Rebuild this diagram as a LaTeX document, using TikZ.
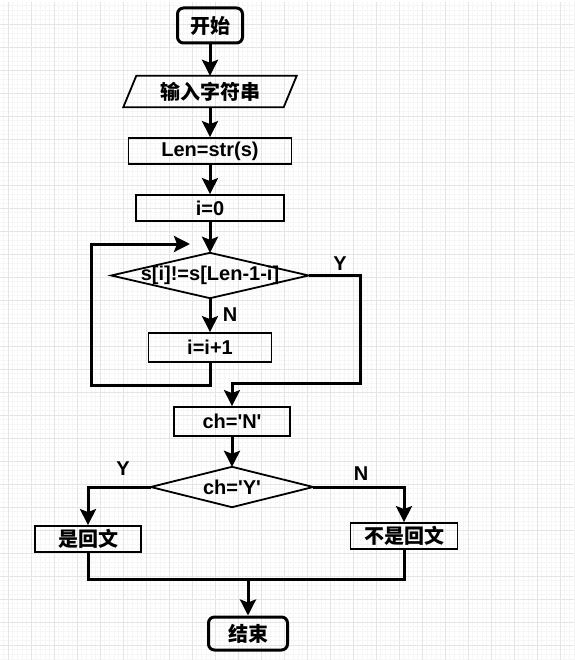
\documentclass[tikz,border=0pt]{standalone}
\usepackage{fontspec}
\setmainfont{Liberation Sans}
\newfontfamily\cjk{Noto Sans CJK SC Bold}
\usetikzlibrary{arrows.meta, positioning}

\tikzset{
  txt/.style={font=\fontsize{20}{22}\selectfont\bfseries, inner sep=0pt},
  box/.style={txt, draw, line width=1.8pt, rectangle},
  term/.style={txt, draw, line width=3pt, rounded corners=6pt},
  holder/.style={txt},
  line/.style={line width=3pt, line join=miter},
  arr/.style={line, -{Stealth[length=16pt, width=16pt, inset=3pt]}},
  lbl/.style={txt}
}

\begin{document}
\begin{tikzpicture}[x=1pt, y=-1pt]

        % ==========================================
        % SFONDO A GRIGLIA
        % ==========================================
        \useasboundingbox (0,0) rectangle (574,660);
        \fill[white] (0,0) rectangle (574,660);
        \draw[gray!7, line width=0.5pt, step=4.6pt, shift={(8pt,-1pt)}] (-8,1) grid (566,661);
        \draw[gray!20, line width=0.7pt, step=23pt, shift={(8pt,-1pt)}] (-8,1) grid (566,661);

        % ==========================================
        % BLOCCHI DEL DIAGRAMMA
        % ==========================================

        % Inizio
        \node[term, minimum width=65pt, minimum height=35pt] (start) at (210,25.5) {\cjk 开始};

        % Input (parallelogramma)
        \node[holder, minimum width=173pt, minimum height=31pt] (inp) at (210,91.5) {\cjk 输入字符串};
        \draw[line width=1.8pt] ([xshift=13pt]inp.north west) -- (inp.north east)
            -- ([xshift=-13pt]inp.south east) -- (inp.south west) -- cycle;

        % Assegnazioni
        \node[box, minimum width=163pt, minimum height=26pt] (len) at (210,151) {Len=str(s)};
        \node[box, minimum width=148pt, minimum height=26pt] (izero) at (210,208) {i=0};

        % Primo rombo
        \node[holder, minimum width=197pt, minimum height=45pt] (cmp) at (210,275.5) {s[i]!=s[Len-1-i]};
        \draw[line width=1.8pt] (cmp.west) -- (cmp.north) -- (cmp.east) -- (cmp.south) -- cycle;

        % Incremento
        \node[box, minimum width=123pt, minimum height=29pt] (inc) at (210,347.5) {i=i+1};

        % ch='N'
        \node[box, minimum width=116pt, minimum height=29pt] (chn) at (232,421.5) {ch=\textquotesingle N\textquotesingle};

        % Secondo rombo
        \node[holder, minimum width=162pt, minimum height=40pt] (chk) at (232,487) {ch=\textquotesingle Y\textquotesingle};
        \draw[line width=1.8pt] (chk.west) -- (chk.north) -- (chk.east) -- (chk.south) -- cycle;

        % Risultati
        \node[box, minimum width=106pt, minimum height=26pt] (yes) at (88,539) {\cjk 是回文};
        \node[box, minimum width=107pt, minimum height=26pt] (no) at (404,536) {\cjk 不是回文};

        % Fine
        \node[term, minimum width=79pt, minimum height=33pt] (stop) at (248,633.5) {\cjk 结束};

        % ==========================================
        % COLLEGAMENTI
        % ==========================================
        \coordinate (ydown) at (360,383);
        \coordinate (loopL) at (91,385);
        \coordinate (loopT) at (190,244);
        \coordinate (merge) at (248,579);

        \draw[arr] (start) -- (inp);
        \draw[arr] (inp) -- (len);
        \draw[arr] (len) -- (izero);
        \draw[arr] (izero) -- (cmp.north);
        \draw[arr] (cmp.south) -- (inc);
        \draw[arr] (cmp.east) -| (ydown) -| (chn.north);
        \draw[arr] (inc.south) |- (loopL) |- (loopT);
        \draw[arr] (chn) -- (chk.north);
        \draw[arr] (chk.west) -| (yes.north);
        \draw[arr] (chk.east) -| (no.north);
        \draw[line] (yes.south) |- (merge);
        \draw[line] (no.south) |- (merge);
        \draw[arr] (merge) -- (stop);

        % Etichette
        \node[lbl] (yone) at (340,264) {Y};
        \node[lbl] (none) at (230,315) {N};
        \node[lbl] (ytwo) at (123,469) {Y};
        \node[lbl] (ntwo) at (361,474) {N};

    \end{tikzpicture}
\end{document}
